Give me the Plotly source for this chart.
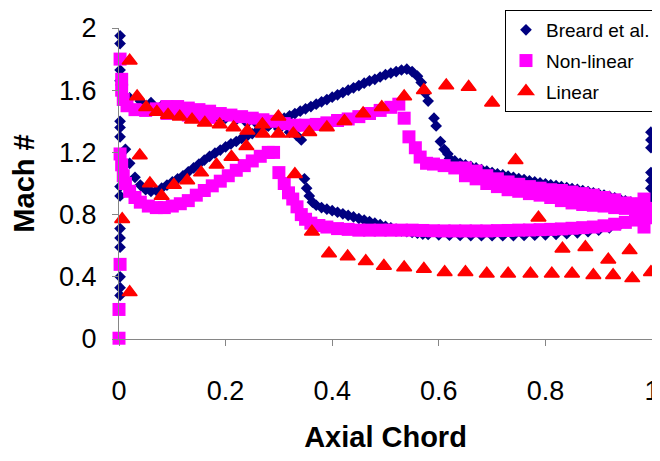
import plotly.graph_objects as go

# ---------------- Breard et al. (navy diamonds) ----------------
breard_le_x = [0.002] * 15
breard_le_y = [1.95, 1.90, 1.73, 1.66, 1.40, 1.36, 1.30, 0.98, 0.92, 0.71, 0.65, 0.59, 0.40, 0.33, 0.28]

breard_te_x = [0.998] * 8
breard_te_y = [1.33, 1.28, 1.23, 1.07, 1.02, 0.97, 0.91, 0.88]

breard_suc_x = [0.012, 0.02, 0.03, 0.04, 0.05,
                0.06, 0.07, 0.08, 0.09, 0.10, 0.11, 0.12, 0.13, 0.14, 0.15,
                0.16, 0.17, 0.18, 0.19, 0.20, 0.21, 0.22, 0.23, 0.24, 0.25,
                0.26, 0.27, 0.28, 0.29, 0.30, 0.31, 0.32, 0.33, 0.34, 0.35,
                0.36, 0.37, 0.38, 0.39, 0.40, 0.41, 0.42, 0.43, 0.44, 0.45,
                0.46, 0.47, 0.48, 0.49, 0.50, 0.51, 0.52, 0.53, 0.54, 0.55, 0.56,
                0.567, 0.575, 0.58, 0.591, 0.595, 0.603, 0.61, 0.617,
                0.62, 0.63, 0.64, 0.65, 0.66, 0.67, 0.68, 0.69, 0.70, 0.71,
                0.72, 0.73, 0.74, 0.75, 0.76, 0.77, 0.78, 0.79, 0.80, 0.81,
                0.82, 0.83, 0.84, 0.85, 0.86, 0.87, 0.88, 0.89, 0.90, 0.91,
                0.92, 0.93, 0.94, 0.95, 0.96, 0.97, 0.98, 0.99]
breard_suc_y = [1.22, 1.13, 1.04, 0.99, 0.96,
                0.95, 0.955, 0.97, 0.99, 1.01, 1.03, 1.05, 1.075, 1.10, 1.125,
                1.15, 1.175, 1.195, 1.215, 1.235, 1.255, 1.27, 1.29, 1.305, 1.32,
                1.34, 1.355, 1.37, 1.39, 1.405, 1.42, 1.435, 1.45, 1.465, 1.48,
                1.495, 1.51, 1.525, 1.54, 1.555, 1.57, 1.585, 1.60, 1.615, 1.63,
                1.645, 1.66, 1.67, 1.685, 1.70, 1.71, 1.72, 1.73, 1.735, 1.72, 1.69,
                1.65, 1.58, 1.53, 1.42, 1.37, 1.27, 1.22, 1.19,
                1.16, 1.145, 1.13, 1.12, 1.11, 1.10, 1.09, 1.08, 1.07, 1.062,
                1.055, 1.047, 1.04, 1.032, 1.025, 1.017, 1.01, 1.004, 0.998, 0.992,
                0.986, 0.98, 0.974, 0.968, 0.962, 0.955, 0.948, 0.94, 0.933, 0.925,
                0.917, 0.908, 0.898, 0.888, 0.88, 0.873, 0.866, 0.86]

breard_pre_x = [0.01, 0.02, 0.04, 0.06, 0.08, 0.10, 0.12, 0.14, 0.16, 0.18,
                0.20, 0.22, 0.24, 0.26, 0.28, 0.30, 0.32, 0.333, 0.342,
                0.348, 0.352, 0.357, 0.363, 0.37, 0.38, 0.39, 0.40, 0.41, 0.42,
                0.43, 0.44, 0.45, 0.46, 0.47, 0.48, 0.49, 0.50, 0.51, 0.52,
                0.53, 0.54, 0.55, 0.56, 0.57, 0.58, 0.60, 0.62, 0.64, 0.66,
                0.68, 0.70, 0.72, 0.74, 0.76, 0.78, 0.80, 0.82, 0.84, 0.86,
                0.88, 0.90, 0.92, 0.94, 0.95, 0.96, 0.97, 0.98]
breard_pre_y = [1.56, 1.55, 1.53, 1.52, 1.50, 1.49, 1.48, 1.46, 1.45, 1.43,
                1.42, 1.41, 1.39, 1.38, 1.37, 1.35, 1.33, 1.31, 1.28,
                1.03, 0.97, 0.92, 0.88, 0.86, 0.845, 0.835, 0.825, 0.815, 0.805,
                0.795, 0.785, 0.775, 0.765, 0.755, 0.745, 0.735, 0.725, 0.715, 0.705,
                0.695, 0.69, 0.685, 0.68, 0.675, 0.672, 0.67, 0.668, 0.666, 0.665,
                0.664, 0.664, 0.664, 0.665, 0.666, 0.668, 0.67, 0.673, 0.677, 0.683,
                0.69, 0.70, 0.715, 0.735, 0.75, 0.765, 0.785, 0.81]

# ---------------- Non-linear (magenta squares) ----------------
nonlin_le_x = [0.0, 0.0, 0.002, 0.002, 0.005]
nonlin_le_y = [0.005, 0.19, 0.48, 1.80, 1.67]

nonlin_pre_x = [0.005, 0.008, 0.015, 0.03, 0.05, 0.07, 0.09, 0.11, 0.13, 0.15, 0.17,
                0.09, 0.11, 0.13, 0.15, 0.17,
                0.19, 0.21, 0.23, 0.25, 0.27, 0.29, 0.31, 0.33, 0.35, 0.37,
                0.39, 0.41, 0.43, 0.45, 0.47, 0.49, 0.51, 0.525,
                0.535, 0.544, 0.556, 0.565, 0.577, 0.59, 0.61, 0.63,
                0.65, 0.67, 0.69, 0.71, 0.73, 0.75, 0.77, 0.79, 0.81, 0.83,
                0.85, 0.87, 0.89, 0.91, 0.93, 0.95, 0.97,
                0.65, 0.67, 0.69, 0.71, 0.73, 0.75, 0.77, 0.79, 0.81, 0.83,
                0.85, 0.87, 0.89, 0.91, 0.93, 0.95, 0.97]
nonlin_pre_y = [1.60, 1.54, 1.50, 1.475, 1.47, 1.48, 1.495, 1.495, 1.485, 1.475, 1.465,
                1.45, 1.45, 1.44, 1.43, 1.425,
                1.45, 1.44, 1.43, 1.42, 1.41, 1.40, 1.385, 1.375, 1.375, 1.38,
                1.39, 1.405, 1.415, 1.43, 1.45, 1.47, 1.49, 1.51,
                1.42, 1.30, 1.23, 1.17, 1.13, 1.125, 1.115, 1.10,
                1.10, 1.08, 1.05, 1.03, 1.01, 0.995, 0.98, 0.97, 0.96, 0.955,
                0.945, 0.935, 0.925, 0.91, 0.895, 0.875, 0.87,
                1.05, 1.03, 1.00, 0.98, 0.96, 0.95, 0.935, 0.925, 0.91, 0.89,
                0.875, 0.865, 0.86, 0.855, 0.845, 0.84, 0.835]

nonlin_suc_x = [0.002, 0.005, 0.008, 0.012, 0.02, 0.03, 0.04, 0.055, 0.07, 0.085,
                0.10, 0.115, 0.13, 0.145, 0.16, 0.175, 0.19, 0.205, 0.22, 0.235,
                0.25, 0.265, 0.28, 0.29,
                0.30, 0.31, 0.318, 0.326, 0.334, 0.342, 0.35, 0.36, 0.375, 0.39,
                0.41, 0.43, 0.45, 0.47, 0.49, 0.51, 0.53, 0.55, 0.57, 0.59,
                0.61, 0.63, 0.65, 0.67, 0.69, 0.71, 0.73, 0.75, 0.77, 0.79,
                0.81, 0.83, 0.85, 0.87, 0.89, 0.91, 0.93, 0.95, 0.97]
nonlin_suc_y = [1.19, 1.12, 1.05, 1.00, 0.95, 0.91, 0.88, 0.855, 0.845, 0.845,
                0.855, 0.87, 0.89, 0.925, 0.955, 0.985, 1.015, 1.05, 1.085, 1.115,
                1.145, 1.175, 1.20, 1.20,
                1.07, 1.00, 0.94, 0.90, 0.85, 0.80, 0.77, 0.745, 0.73, 0.72,
                0.71, 0.705, 0.70, 0.70, 0.70, 0.70, 0.70, 0.70, 0.698, 0.696,
                0.695, 0.695, 0.695, 0.695, 0.695, 0.697, 0.698, 0.70, 0.701, 0.703,
                0.705, 0.708, 0.712, 0.716, 0.72, 0.728, 0.738, 0.75, 0.765]

nonlin_te_x = [0.985, 0.985, 0.985, 0.985, 1.0, 1.0]
nonlin_te_y = [0.90, 0.84, 0.78, 0.72, 0.84, 0.78]

# ---------------- Linear (red triangles) ----------------
linear_pre_x = [0.02, 0.034, 0.051, 0.071, 0.092, 0.114, 0.137, 0.161, 0.189, 0.215,
                0.241, 0.27, 0.299, 0.327, 0.357, 0.39, 0.423, 0.458, 0.493, 0.535,
                0.572, 0.614, 0.656, 0.70, 0.744, 0.787, 0.832, 0.875, 0.918, 0.958]
linear_pre_y = [1.79, 1.56, 1.49, 1.46, 1.44, 1.43, 1.41, 1.39, 1.38, 1.36,
                1.34, 1.32, 1.32, 1.32, 1.33, 1.36, 1.40, 1.45, 1.49, 1.56,
                1.60, 1.63, 1.62, 1.52, 1.15, 0.78, 0.58, 0.59, 0.51, 0.57]

linear_suc_x = [0.006, 0.02, 0.039, 0.058, 0.08, 0.103, 0.128, 0.154, 0.183, 0.211,
                0.239, 0.269, 0.299, 0.33, 0.362, 0.394, 0.429, 0.463, 0.497, 0.535,
                0.572, 0.611, 0.65, 0.69, 0.73, 0.772, 0.812, 0.85, 0.89, 0.927,
                0.963, 0.998]
linear_suc_y = [0.77, 0.30, 1.18, 1.00, 0.92, 0.99, 1.02, 1.07, 1.12, 1.17,
                1.24, 1.38, 1.43, 1.06, 0.69, 0.55, 0.53, 0.50, 0.47, 0.46,
                0.45, 0.43, 0.43, 0.42, 0.42, 0.42, 0.42, 0.42, 0.41, 0.41,
                0.39, 0.43]

x_ticks = [0, 0.2, 0.4, 0.6, 0.8, 1]
x_tick_labels = ["0", "0.2", "0.4", "0.6", "0.8", "1"]
y_ticks = [0, 0.4, 0.8, 1.2, 1.6, 2]
y_tick_labels = ["0", "0.4", "0.8", "1.2", "1.6", "2"]

FONT = "Liberation Sans, Arial, sans-serif"

fig = go.Figure()
fig.add_trace(go.Scatter(
    x=breard_le_x + breard_suc_x + breard_pre_x + breard_te_x,
    y=breard_le_y + breard_suc_y + breard_pre_y + breard_te_y,
    mode="markers", name="Breard et al.", legendgroup="a",
    marker=dict(symbol="diamond", size=9, color="#000080", line=dict(width=0)),
    cliponaxis=False))
fig.add_trace(go.Scatter(
    x=nonlin_le_x + nonlin_pre_x + nonlin_suc_x + nonlin_te_x,
    y=nonlin_le_y + nonlin_pre_y + nonlin_suc_y + nonlin_te_y,
    mode="markers", name="Non-linear", legendgroup="b",
    marker=dict(symbol="square", size=13, color="#FF00FF", line=dict(width=0)),
    cliponaxis=False))
fig.add_trace(go.Scatter(
    x=linear_pre_x + linear_suc_x,
    y=linear_pre_y + linear_suc_y,
    mode="markers", name="Linear", legendgroup="c",
    marker=dict(symbol="triangle-up", size=13, color="#FF0000",
                line=dict(width=1.5, color="#FF0000")),
    cliponaxis=False))

axis_common = dict(showgrid=False, zeroline=False, showline=True, linecolor="#868686",
                   linewidth=1, ticks="outside", ticklen=6, tickcolor="#868686",
                   automargin=False,
                   tickfont=dict(family=FONT, size=27, color="black"))

# The page is drawn with an 8px body margin, so the figure is laid out 8px up/left;
# its height is chosen so the page does not need a vertical scrollbar.
fig.update_layout(
    width=660, height=445,
    margin=dict(l=111, r=16, t=20, b=114, autoexpand=False),
    paper_bgcolor="white", plot_bgcolor="white",
    font=dict(family=FONT, color="black"),
    xaxis=dict(range=[0, 1], tickvals=x_ticks, ticktext=x_tick_labels,
               ticklabelstandoff=22,
               title=dict(text="<b>Axial Chord</b>", font=dict(family=FONT, size=29),
                          standoff=30),
               **axis_common),
    yaxis=dict(range=[0, 2], tickvals=y_ticks, ticktext=y_tick_labels,
               ticklabelstandoff=10,
               title=dict(text="<b>Mach #</b>", font=dict(family=FONT, size=29),
                          standoff=27),
               **axis_common),
    legend=dict(x=0.753, y=0.9955, xref="container", yref="container",
                xanchor="left", yanchor="top",
                bgcolor="white", bordercolor="black", borderwidth=1,
                font=dict(family=FONT, size=19, color="black"),
                tracegroupgap=3, itemwidth=30),
    showlegend=True,
)

fig.write_html("out.html")
